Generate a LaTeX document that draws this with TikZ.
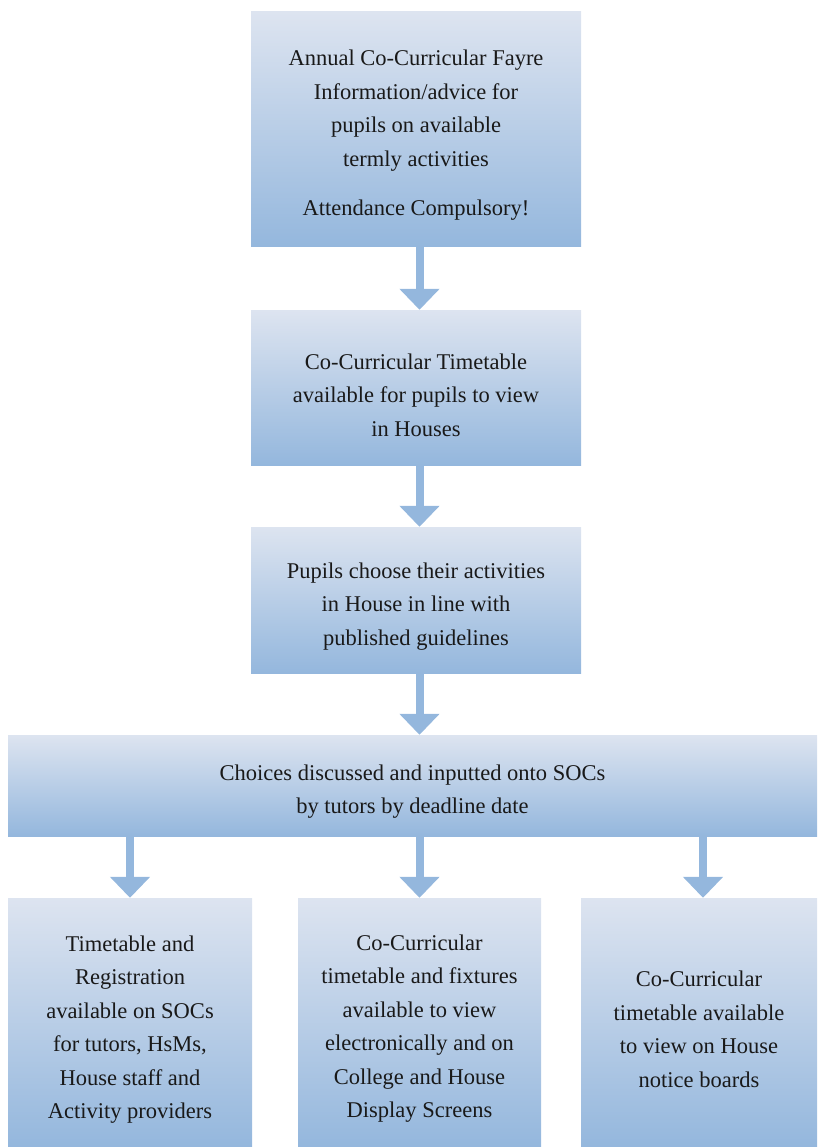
\documentclass[tikz,border=0pt]{standalone}
\usepackage{fontspec}
\setmainfont{Liberation Serif}
\usetikzlibrary{arrows.meta,calc}
\definecolor{boxtop}{RGB}{221,228,240}
\definecolor{boxbot}{RGB}{148,183,221}
\definecolor{arrowc}{RGB}{148,183,221}
\tikzset{
  stepbox/.style={rectangle, inner sep=0pt, top color=boxtop, bottom color=boxbot, draw=none},
  steptext/.style={inner sep=0pt, align=center, font=\fontsize{22.5}{33.5}\selectfont, text=black!90},
  flowarrow/.style={draw=arrowc, line width=8pt,
    -{Triangle[width=39pt,length=21pt]}, shorten >=0pt}
}
\begin{document}
\begin{tikzpicture}[x=1pt,y=1pt]
\useasboundingbox (0,0) rectangle (817,-1147);
\node[stepbox, minimum width=330pt, minimum height=235pt] (b1) at (416,-129.5) {};
\node[stepbox, minimum width=330pt, minimum height=155pt] (b2) at (416,-387.5) {};
\node[stepbox, minimum width=330pt, minimum height=146pt] (b3) at (416,-600) {};
\node[stepbox, minimum width=809pt, minimum height=101pt] (b4) at (412.5,-785.5) {};
\node[stepbox, minimum width=244pt, minimum height=249pt] (b5) at (130,-1022.5) {};
\node[stepbox, minimum width=243pt, minimum height=249pt] (b6) at (419.5,-1022.5) {};
\node[stepbox, minimum width=236pt, minimum height=249pt] (b7) at (699,-1022.5) {};
\node[steptext] (t1) at ([yshift=-6pt]b1.center)
  {Annual Co-Curricular Fayre\\Information/advice for\\pupils on available\\termly activities\\[16pt]Attendance Compulsory!};
\node[steptext] (t2) at ([yshift=-7.5pt]b2.center)
  {Co-Curricular Timetable\\available for pupils to view\\in Houses};
\node[steptext] (t3) at ([yshift=-6.5pt]b3.center)
  {Pupils choose their activities\\in House in line with\\published guidelines};
\node[steptext] (t4) at ([yshift=-6pt]b4.center)
  {Choices discussed and inputted onto SOCs\\by tutors by deadline date};
\node[steptext] (t5) at ([yshift=-7pt]b5.center)
  {Timetable and\\Registration\\available on SOCs\\for tutors, HsMs,\\House staff and\\Activity providers};
\node[steptext] (t6) at ([yshift=-6pt]b6.center)
  {Co-Curricular\\timetable and fixtures\\available to view\\electronically and on\\College and House\\Display Screens};
\node[steptext] (t7) at ([yshift=-7pt]b7.center)
  {Co-Curricular\\timetable available\\to view on House\\notice boards};
\draw[flowarrow] ([xshift=3.5pt]b1.south) -- ([xshift=3.5pt]b2.north);
\draw[flowarrow] ([xshift=3.5pt]b2.south) -- ([xshift=3.5pt]b3.north);
\draw[flowarrow] ([xshift=3.5pt]b3.south) -- ([xshift=3.5pt]b4.north -| b3.north);
\draw[flowarrow] (b4.south -| b5.north) -- (b5.north);
\draw[flowarrow] (b4.south -| b6.north) -- (b6.north);
\draw[flowarrow] ([xshift=4pt]b4.south -| b7.north) -- ([xshift=4pt]b7.north);
\end{tikzpicture}
\end{document}
